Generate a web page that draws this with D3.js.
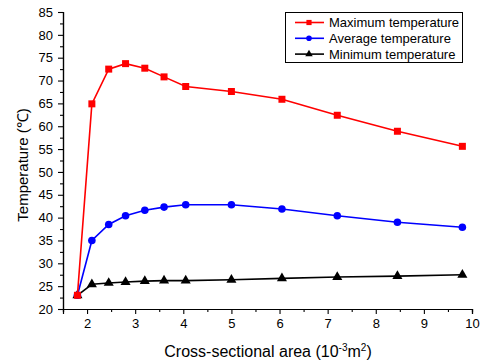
<!DOCTYPE html>
<html>
<head>
<meta charset="utf-8">
<script src="https://cdn.jsdelivr.net/npm/d3@7"></script>
<style>
  html, body { margin: 0; padding: 0; background: #fff; }
  svg { display: block; font-family: Arial, "Liberation Sans", sans-serif; }
</style>
</head>
<body>
<svg id="chart" width="484" height="364"></svg>
<script>
// Cross-sectional area (10^-3 m^2)
const area = [1.8, 2.1, 2.45, 2.8, 3.2, 3.6, 4.05, 5.0, 6.05, 7.2, 8.45, 9.8];
// Temperatures (°C)
const maxTemp = [23.0, 64.9, 72.5, 73.7, 72.7, 70.8, 68.7, 67.6, 65.9, 62.4, 58.9, 55.6];
const avgTemp = [23.0, 35.0, 38.5, 40.4, 41.6, 42.3, 42.8, 42.8, 41.9, 40.4, 39.0, 37.9];
const minTemp = [23.0, 25.4, 25.7, 25.9, 26.1, 26.2, 26.2, 26.4, 26.7, 27.0, 27.2, 27.5];
const seriesNames = ["Maximum temperature", "Average temperature", "Minimum temperature"];
const xTicks = [2, 3, 4, 5, 6, 7, 8, 9, 10];
const yTicks = [20, 25, 30, 35, 40, 45, 50, 55, 60, 65, 70, 75, 80, 85];

const svg = d3.select("#chart");
const plotLeft = 63, plotRight = 472, plotTop = 12, plotBottom = 309;

const x = d3.scaleLinear().domain([1.5, 10]).range([plotLeft, plotRight]);
const y = d3.scaleLinear().domain([20, 85]).range([plotBottom, plotTop]);

// Axes with major and minor ticks
const xAxis = d3.axisBottom(x).tickValues(xTicks).tickSize(5).tickPadding(5).tickFormat(d3.format("d"));
const xMinor = d3.axisBottom(x).tickValues(d3.range(1.5, 10.01, 0.5).filter(v => !Number.isInteger(v))).tickSize(3).tickFormat("");
const yAxis = d3.axisLeft(y).tickValues(yTicks).tickSize(5).tickPadding(5).tickFormat(d3.format("d"));
const yMinor = d3.axisLeft(y).tickValues(d3.range(22.5, 85, 5)).tickSize(3).tickFormat("");

function styleAxis(g) {
  g.selectAll("path").attr("stroke", "#000").attr("stroke-width", 1.2);
  g.selectAll("line").attr("stroke", "#000").attr("stroke-width", 1.1);
  g.selectAll("text").attr("font-size", 13).attr("fill", "#000")
    .attr("font-family", "Arial, 'Liberation Sans', sans-serif");
}

svg.append("g").attr("transform", `translate(0,${plotBottom})`).call(xMinor).call(styleAxis);
svg.append("g").attr("transform", `translate(0,${plotBottom})`).call(xAxis).call(styleAxis);
svg.append("g").attr("transform", `translate(${plotLeft},0)`).call(yMinor).call(styleAxis);
svg.append("g").attr("transform", `translate(${plotLeft},0)`).call(yAxis).call(styleAxis);

// Axis titles
const xt = svg.append("text").attr("x", 268).attr("y", 357).attr("text-anchor", "middle")
  .attr("font-size", 16).attr("fill", "#000");
xt.append("tspan").text("Cross-sectional area (10");
xt.append("tspan").attr("dy", -6).attr("font-size", 10).text("-3");
xt.append("tspan").attr("dy", 6).text("m");
xt.append("tspan").attr("dy", -6).attr("font-size", 10).text("2");
xt.append("tspan").attr("dy", 6).text(")");

svg.append("text").attr("transform", "translate(28,165) rotate(-90)")
  .attr("text-anchor", "middle").attr("font-size", 15).attr("fill", "#000")
  .text("Temperature (℃)");

const series = [
  { name: seriesNames[0], values: maxTemp, color: "#ff0000", symbol: d3.symbolSquare, size: 49 },
  { name: seriesNames[1], values: avgTemp, color: "#0000ff", symbol: d3.symbolCircle, size: 45 },
  { name: seriesNames[2], values: minTemp, color: "#000000", symbol: d3.symbolTriangle, size: 44 }
];

const line = d3.line().x(d => x(d[0])).y(d => y(d[1]));

// Draw from bottom series upward so the red line sits on top
series.slice().reverse().forEach(s => {
  const pts = area.map((a, i) => [a, s.values[i]]);
  svg.append("path").datum(pts).attr("d", line)
    .attr("fill", "none").attr("stroke", s.color).attr("stroke-width", 1.6);
  svg.append("g").selectAll("path").data(pts).join("path")
    .attr("transform", d => `translate(${x(d[0])},${y(d[1])})`)
    .attr("d", d3.symbol().type(s.symbol).size(s.size))
    .attr("fill", s.color);
});

// Legend
const lg = svg.append("g");
lg.append("rect").attr("x", 285.5).attr("y", 12.5).attr("width", 177).attr("height", 50)
  .attr("fill", "#fff").attr("stroke", "#000").attr("stroke-width", 1);
series.forEach((s, i) => {
  const yy = 22.5 + i * 15.8;
  lg.append("line").attr("x1", 295).attr("x2", 324).attr("y1", yy).attr("y2", yy)
    .attr("stroke", s.color).attr("stroke-width", 1.6);
  lg.append("path").attr("transform", `translate(309,${yy})`)
    .attr("d", d3.symbol().type(s.symbol).size(s.size * 0.55)).attr("fill", s.color);
  lg.append("text").attr("x", 329).attr("y", yy + 4.5).attr("font-size", 13).attr("fill", "#000")
    .text(s.name);
});
</script>
</body>
</html>
